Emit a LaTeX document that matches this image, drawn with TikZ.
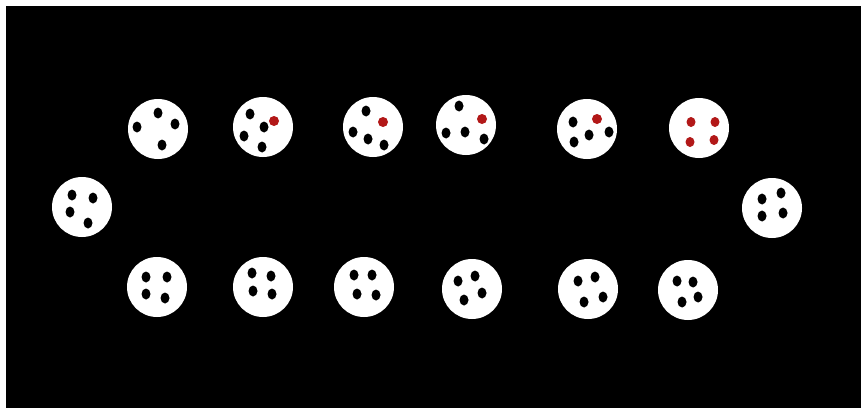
\documentclass[tikz,border=0pt]{standalone}
\definecolor{holered}{RGB}{178,24,24}
\tikzset{
  disc/.style={fill=white},
  hole/.style={fill=black},
  redhole/.style={fill=holered}
}
\begin{document}
\begin{tikzpicture}[x=1pt,y=-1pt,line cap=round,line join=round]
  \useasboundingbox (0,0) rectangle (861,412);
  \fill[white] (0,0) rectangle (861,412);
  \fill[black] (6,6) rectangle (861,408);
  % upper row, left to right
  \begin{scope}[shift={(158,129)}]
    \fill[disc] (0,0) circle (30pt);
    \foreach \dx/\dy in {0/-16,-21/-2,17/-5,4/16}
      \fill[hole] (\dx,\dy) ellipse (4.5pt and 5.5pt);
  \end{scope}
  \begin{scope}[shift={(263,127)}]
    \fill[disc] (0,0) circle (30pt);
    \foreach \dx/\dy in {-13/-13,1/0,-19/9,-1/20}
      \fill[hole] (\dx,\dy) ellipse (4.5pt and 5.5pt);
    \fill[redhole] (11,-6) ellipse (5pt and 5pt);
  \end{scope}
  \begin{scope}[shift={(373,127)}]
    \fill[disc] (0,0) circle (30pt);
    \foreach \dx/\dy in {-7/-16,-20/5,-5/12,11/18}
      \fill[hole] (\dx,\dy) ellipse (4.5pt and 5.5pt);
    \fill[redhole] (10,-5) ellipse (5pt and 5pt);
  \end{scope}
  \begin{scope}[shift={(466,125)}]
    \fill[disc] (0,0) circle (30pt);
    \foreach \dx/\dy in {-7/-19,-20/8,-1/7,18/14}
      \fill[hole] (\dx,\dy) ellipse (4.5pt and 5.5pt);
    \fill[redhole] (16,-6) ellipse (5pt and 5pt);
  \end{scope}
  \begin{scope}[shift={(587,129)}]
    \fill[disc] (0,0) circle (30pt);
    \foreach \dx/\dy in {-14/-7,22/3,2/6,-13/13}
      \fill[hole] (\dx,\dy) ellipse (4.5pt and 5.5pt);
    \fill[redhole] (10,-10) ellipse (5pt and 5pt);
  \end{scope}
  \begin{scope}[shift={(699,128)}]
    \fill[disc] (0,0) circle (30pt);
    \foreach \dx/\dy in {-8/-6,16/-6,-9/14,15/12}
      \fill[redhole] (\dx,\dy) ellipse (4.5pt and 5pt);
  \end{scope}
  % the two end discs
  \begin{scope}[shift={(82,207)}]
    \fill[disc] (0,0) circle (30pt);
    \foreach \dx/\dy in {-10/-12,11/-9,-12/5,6/16}
      \fill[hole] (\dx,\dy) ellipse (4.5pt and 5.5pt);
  \end{scope}
  \begin{scope}[shift={(772,208)}]
    \fill[disc] (0,0) circle (30pt);
    \foreach \dx/\dy in {-10/-9,9/-15,-10/8,11/5}
      \fill[hole] (\dx,\dy) ellipse (4.5pt and 5.5pt);
  \end{scope}
  % lower row, left to right
  \begin{scope}[shift={(157,287)}]
    \fill[disc] (0,0) circle (30pt);
    \foreach \dx/\dy in {-11/-10,10/-10,-11/7,8/11}
      \fill[hole] (\dx,\dy) ellipse (4.5pt and 5.5pt);
  \end{scope}
  \begin{scope}[shift={(263,287)}]
    \fill[disc] (0,0) circle (30pt);
    \foreach \dx/\dy in {-11/-14,8/-11,-10/4,9/7}
      \fill[hole] (\dx,\dy) ellipse (4.5pt and 5.5pt);
  \end{scope}
  \begin{scope}[shift={(364,287)}]
    \fill[disc] (0,0) circle (30pt);
    \foreach \dx/\dy in {-10/-12,8/-12,-7/7,12/8}
      \fill[hole] (\dx,\dy) ellipse (4.5pt and 5.5pt);
  \end{scope}
  \begin{scope}[shift={(472,289)}]
    \fill[disc] (0,0) circle (30pt);
    \foreach \dx/\dy in {-14/-8,3/-13,-8/11,10/4}
      \fill[hole] (\dx,\dy) ellipse (4.5pt and 5.5pt);
  \end{scope}
  \begin{scope}[shift={(588,289)}]
    \fill[disc] (0,0) circle (30pt);
    \foreach \dx/\dy in {-10/-8,7/-12,15/8,-4/13}
      \fill[hole] (\dx,\dy) ellipse (4.5pt and 5.5pt);
  \end{scope}
  \begin{scope}[shift={(688,290)}]
    \fill[disc] (0,0) circle (30pt);
    \foreach \dx/\dy in {-11/-9,5/-8,10/7,-6/12}
      \fill[hole] (\dx,\dy) ellipse (4.5pt and 5.5pt);
  \end{scope}
\end{tikzpicture}
\end{document}
